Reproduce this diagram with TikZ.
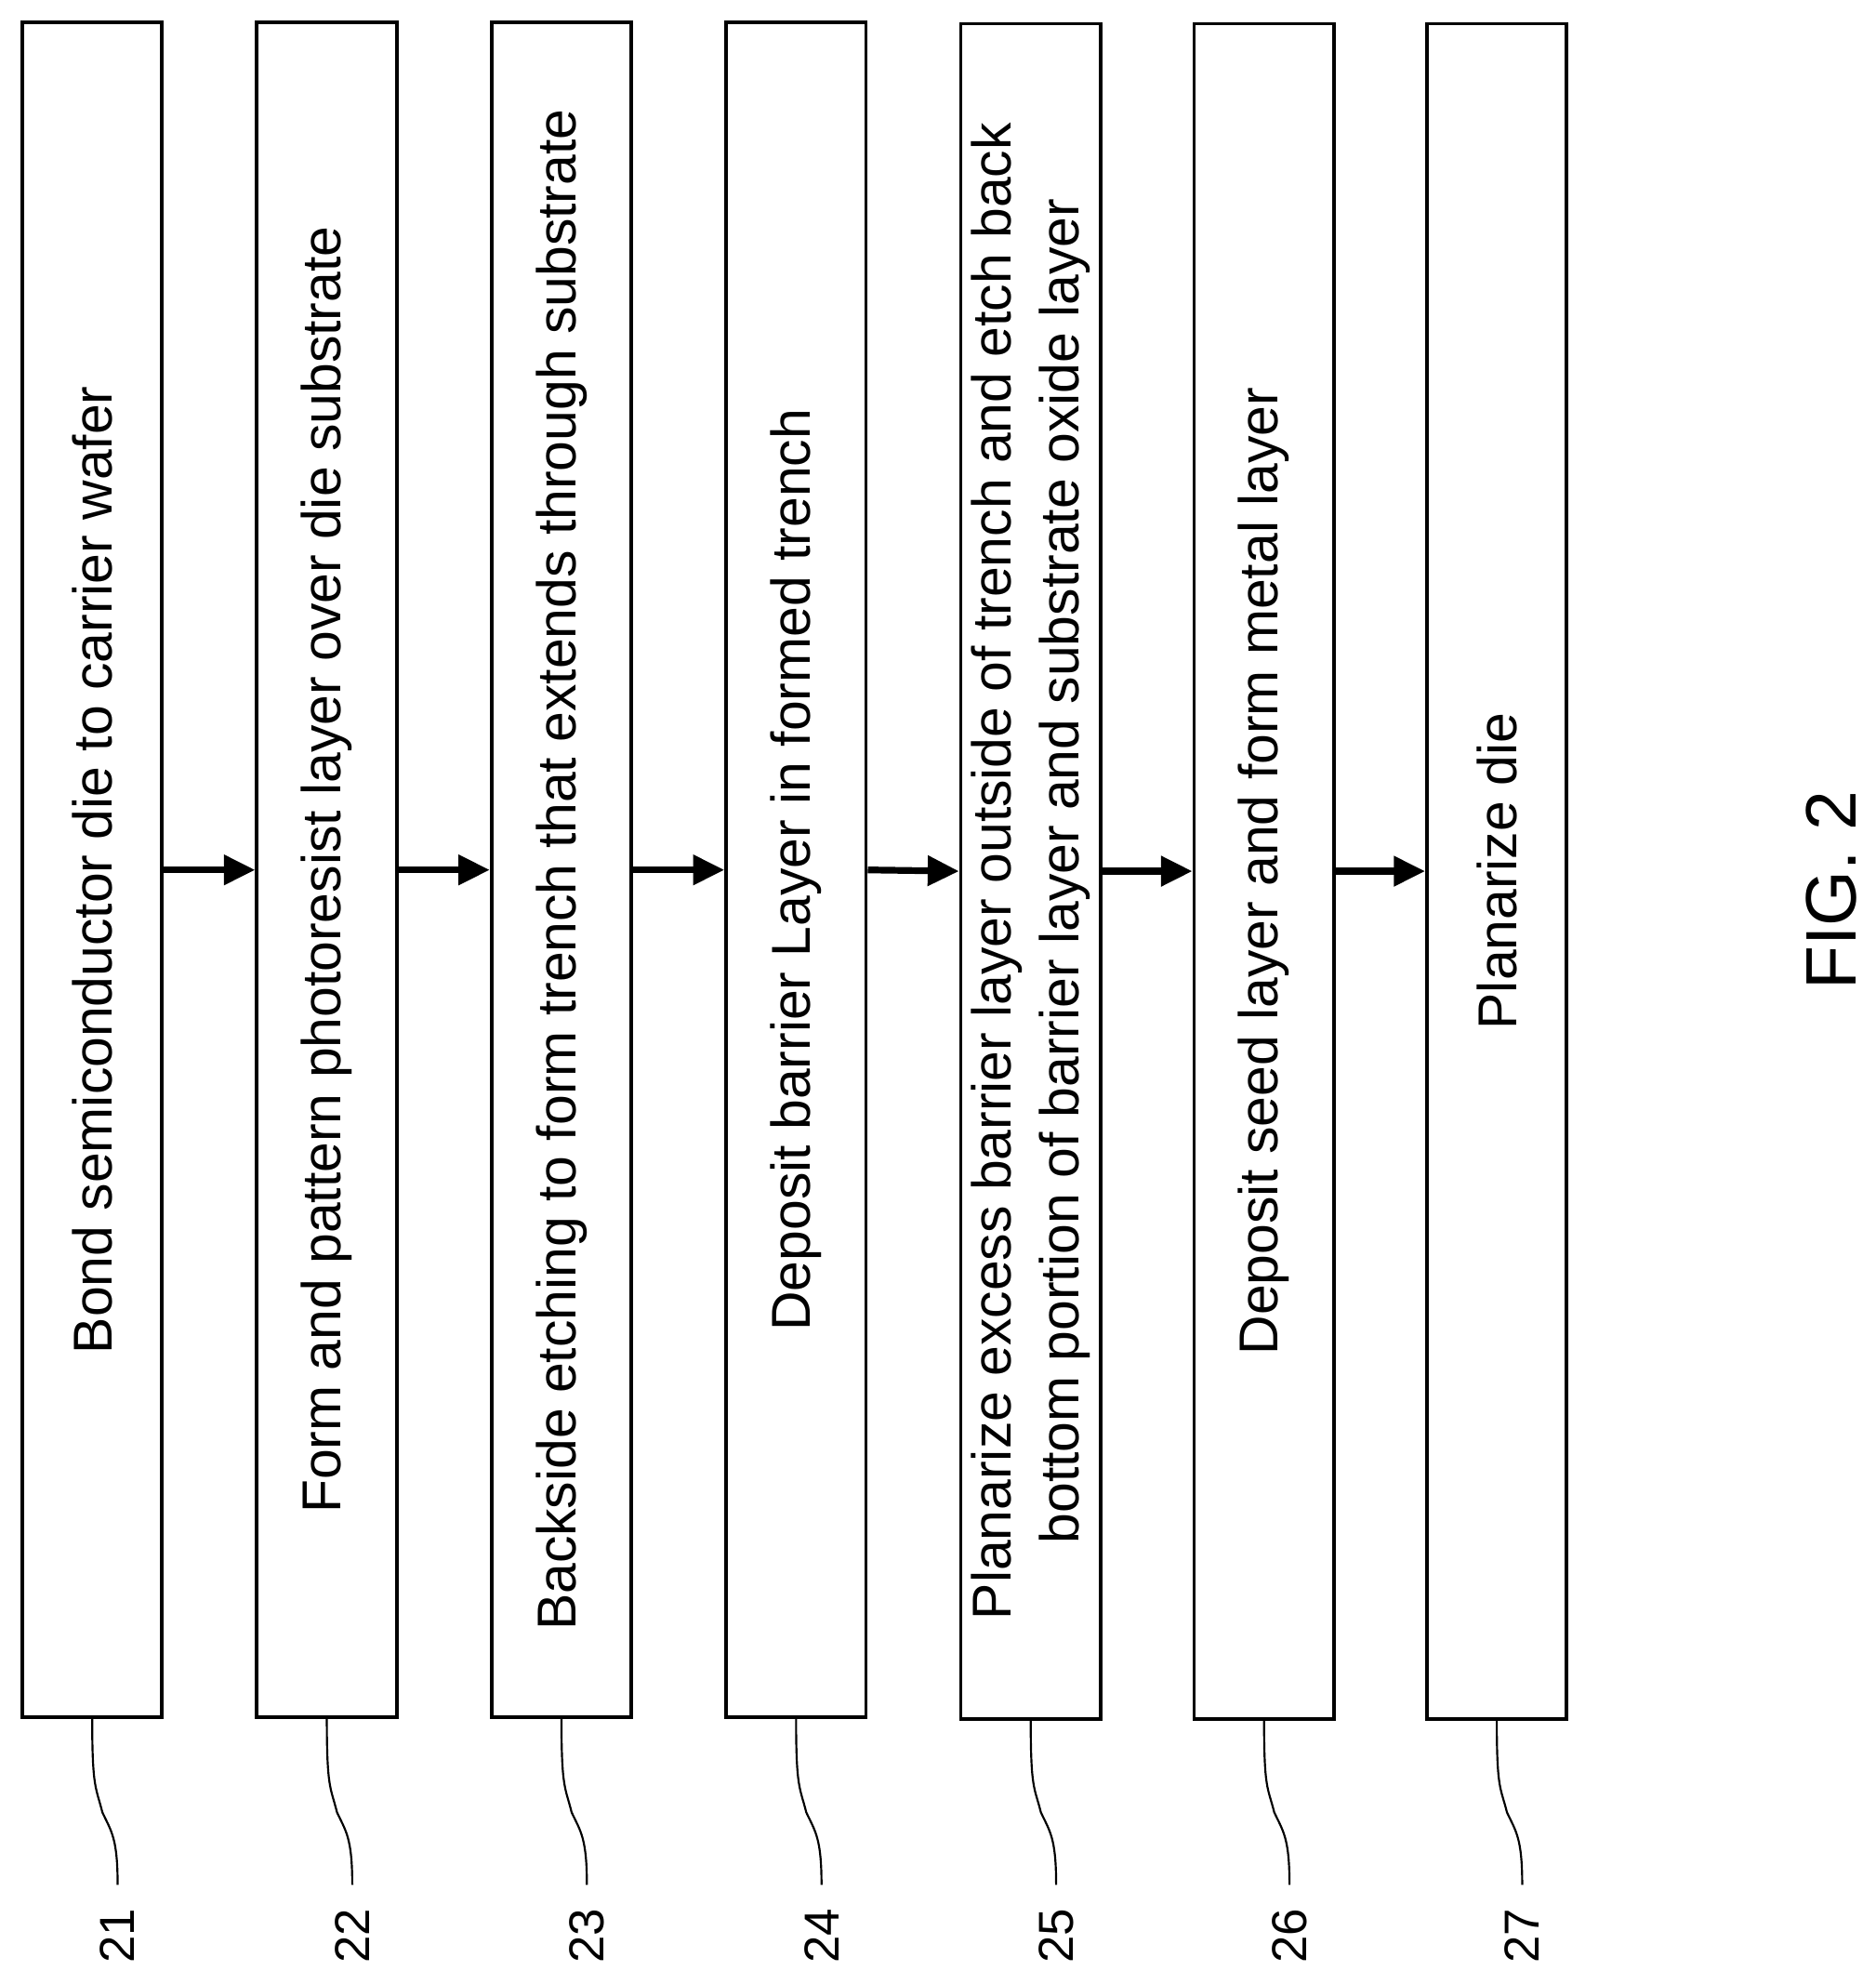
\documentclass[tikz,border=0pt]{standalone}
\usepackage{fontspec}
\setmainfont{Liberation Sans}
\usetikzlibrary{arrows.meta}
\begin{document}
\begin{tikzpicture}[x=0.02cm,y=-0.02cm]
    \tikzset{stepbox/.style={draw, line width=1.6pt, rotate=90, minimum width=26.66cm, minimum height=2.2cm, inner sep=0pt, align=center, font=\fontsize{24.5}{30}\selectfont},
             flow/.style={-{Triangle[length=14pt,width=13pt]}, line width=3pt},
             lead/.style={line width=0.9pt},
             refnum/.style={rotate=90, font=\fontsize{22}{27}\selectfont}};
    \useasboundingbox (0,0) rectangle (1475,1560);
    \node[stepbox] (b1) at (72.5,684) {Bond semiconductor die to carrier wafer};
    \node[stepbox] (b2) at (257,684) {Form and pattern photoresist layer over die substrate};
    \node[stepbox] (b3) at (441.5,684) {Backside etching to form trench that extends through substrate};
    \node[stepbox] (b4) at (626,684) {Deposit barrier Layer in formed trench};
    \node[stepbox] (b5) at (810.5,685) {Planarize excess barrier layer outside of trench and etch back\\bottom portion of barrier layer and substrate oxide layer};
    \node[stepbox] (b6) at (994,685) {Deposit seed layer and form metal layer};
    \node[stepbox] (b7) at (1177,685) {Planarize die};

    \foreach \a/\b in {1/2,2/3,3/4,4/5,5/6,6/7}
        \draw[flow] (b\a.south) -- (b\b.north);

    % reference numerals
    \foreach \i/\x in {1/72.5,2/257,3/441.5,4/626,5/810.5,6/994,7/1177} {
        \coordinate (e\i) at (\x+20,1482);
        \node[refnum] (n\i) at (\x+20,1522) {2\i};
        \draw[lead] (b\i.west) .. controls ([yshift=-1.1cm]b\i.west) and (\x+3,1405) .. (\x+8,1425)
            .. controls (\x+15,1440) and (\x+20,1445) .. (e\i);
    }

    \node[rotate=90, font=\fontsize{32}{38}\selectfont] (fig) at (1440,700) {FIG. 2};
\end{tikzpicture}
\end{document}
